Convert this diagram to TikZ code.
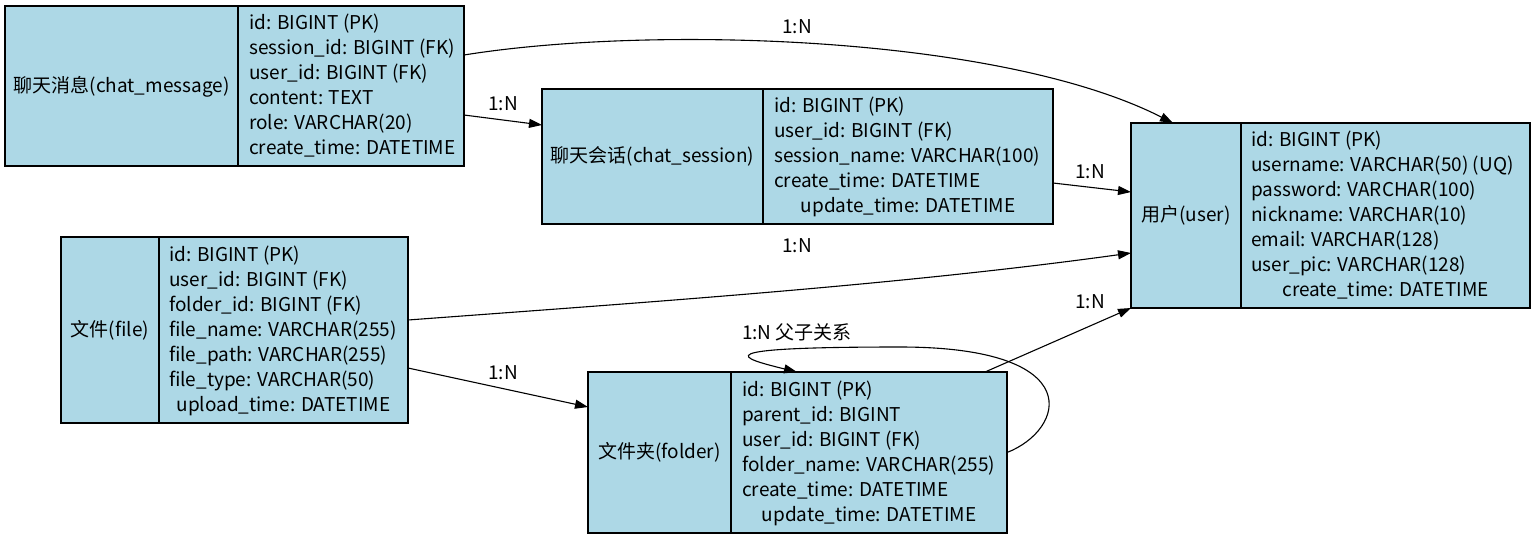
\documentclass[tikz,border=0pt]{standalone}
\usepackage{fontspec}
\setmainfont{Noto Sans CJK SC}
\usetikzlibrary{arrows.meta,calc}
\definecolor{tblfill}{RGB}{173,216,230}
\begin{document}
\begin{tikzpicture}[x=1pt,y=-1pt,
  tbl/.style={draw=black, fill=tblfill, line width=1.2pt, inner sep=0pt, outer sep=0pt, anchor=north west},
  divider/.style={draw=black, line width=1.2pt},
  txt/.style={font=\fontsize{19}{23}\selectfont, inner sep=0pt, text=black},
  fld/.style={txt, anchor=base west},
  fldc/.style={txt, anchor=base},
  lbl/.style={txt, anchor=base},
  rel/.style={draw=black, line width=1.1pt, -{Triangle[length=13pt,width=9pt]}}]
\useasboundingbox (0,0) rectangle (1535,539);
\fill[white] (0,0) rectangle (1535,539);

% ---------- chat_message ----------
\node[tbl, minimum width=459pt, minimum height=160pt] (msg) at (5,6) {};
\draw[divider] (238,6) -- (238,166);
\node[fldc] (msgt) at (121.5,92) {聊天消息(chat\_message)};
\foreach \t [count=\i from 0] in {id: BIGINT (PK), session\_id: BIGINT (FK), user\_id: BIGINT (FK), content: TEXT, role: VARCHAR(20), create\_time: DATETIME}
  \node[fld] (msgf\i) at (249,{29+25*\i}) {\t};

% ---------- chat_session ----------
\node[tbl, minimum width=511pt, minimum height=135pt] (ses) at (542,89) {};
\draw[divider] (763,89) -- (763,224);
\node[fldc] (sest) at (652.5,162.5) {聊天会话(chat\_session)};
\foreach \t [count=\i from 0] in {id: BIGINT (PK), user\_id: BIGINT (FK), session\_name: VARCHAR(100), create\_time: DATETIME}
  \node[fld] (sesf\i) at (774,{112.5+25*\i}) {\t};
\node[fldc] (sesf4) at (908,212.5) {update\_time: DATETIME};

% ---------- user ----------
\node[tbl, minimum width=399pt, minimum height=185pt] (usr) at (1131,123) {};
\draw[divider] (1241,123) -- (1241,308);
\node[fldc] (usrt) at (1186,221.5) {用户(user)};
\foreach \t [count=\i from 0] in {id: BIGINT (PK), username: VARCHAR(50) (UQ), password: VARCHAR(100), nickname: VARCHAR(10), email: VARCHAR(128), user\_pic: VARCHAR(128)}
  \node[fld] (usrf\i) at (1251,{146.5+25*\i}) {\t};
\node[fldc] (usrf6) at (1385.5,296.5) {create\_time: DATETIME};

% ---------- file ----------
\node[tbl, minimum width=347pt, minimum height=186pt] (fil) at (61,237) {};
\draw[divider] (159,237) -- (159,423);
\node[fldc] (filt) at (110,336) {文件(file)};
\foreach \t [count=\i from 0] in {id: BIGINT (PK), user\_id: BIGINT (FK), folder\_id: BIGINT (FK), file\_name: VARCHAR(255), file\_path: VARCHAR(255), file\_type: VARCHAR(50)}
  \node[fld] (filf\i) at (169,{261+25*\i}) {\t};
\node[fldc] (filf6) at (283.5,411) {upload\_time: DATETIME};

% ---------- folder ----------
\node[tbl, minimum width=419pt, minimum height=161pt] (fld) at (588,372) {};
\draw[divider] (731,372) -- (731,533);
\node[fldc] (fldt) at (659.5,458.5) {文件夹(folder)};
\foreach \t [count=\i from 0] in {id: BIGINT (PK), parent\_id: BIGINT, user\_id: BIGINT (FK), folder\_name: VARCHAR(255), create\_time: DATETIME}
  \node[fld] (fldf\i) at (742,{396+25*\i}) {\t};
\node[fldc] (fldf5) at (869,521) {update\_time: DATETIME};

% ---------- relations ----------
\draw[rel] ($(msg.north east)+(0,49)$) .. controls (650,25) and (1000,35) .. ($(usr.north west)+(42,0)$);
\node[lbl] (l1) at (797,33) {1:N};

\draw[rel] ($(msg.north east)+(0,109)$) -- ($(ses.north west)+(0,36)$);
\node[lbl] (l2) at (503,110) {1:N};

\draw[rel] ($(ses.north east)+(0,94)$) -- ($(usr.north west)+(0,69)$);
\node[lbl] (l3) at (1090,178) {1:N};

\draw[rel] ($(fil.north east)+(0,83)$) .. controls (650,302) and (900,285) .. ($(usr.north west)+(0,130)$);
\node[lbl] (l4) at (797,252) {1:N};

\draw[rel] ($(fil.north east)+(0,131)$) -- ($(fld.north west)+(0,35)$);
\node[lbl] (l5) at (503,379) {1:N};

\draw[rel] ($(fld.north west)+(397,0)$) -- (usr.south west);
\node[lbl] (l6) at (1090,308) {1:N};

\draw[rel] (fld.east) .. controls (1065,430) and (1090,347) .. (900,347)
  .. controls (700,347) and (740,358) .. ($(fld.north west)+(209,0)$);
\node[lbl] (l7) at (797,339) {1:N 父子关系};
\end{tikzpicture}
\end{document}
